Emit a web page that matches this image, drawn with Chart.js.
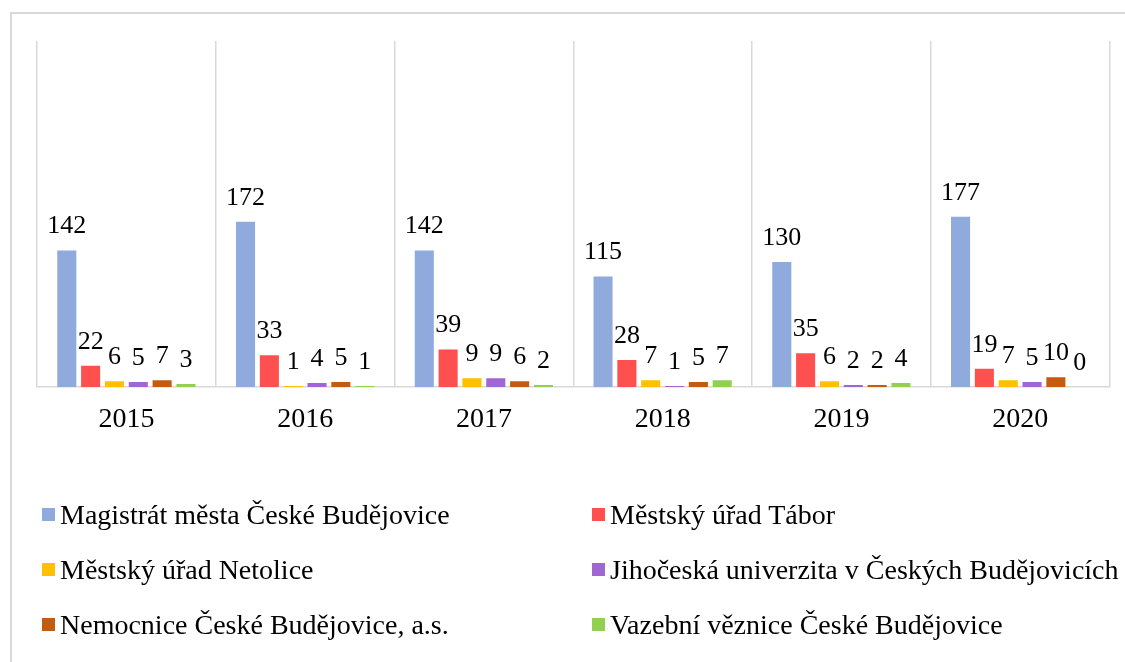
<!DOCTYPE html>
<html>
<head>
<meta charset="utf-8">
<script src="https://cdn.jsdelivr.net/npm/chart.js@4.4.1/dist/chart.umd.min.js"></script>
<style>
  html, body { margin: 0; padding: 0; background: #fff; }
  #wrap { position: relative; width: 1125px; height: 662px; overflow: hidden; }
  #frame { position: absolute; left: 10px; top: 12px; width: 1130px; height: 670px; border-left: 2px solid #d9d9d9; border-top: 2px solid #d9d9d9; box-sizing: border-box; }
  #c { position: absolute; left: 0; top: 0; }
  .lg { position: absolute; font-family: 'Liberation Serif', 'Times New Roman', serif; font-size: 28px; color: #000; white-space: nowrap; line-height: 32px; }
  .lg i { position: absolute; left: -18px; top: 9px; width: 13px; height: 13px; }
</style>
</head>
<body>
<div id="wrap">
  <div id="frame"></div>
  <canvas id="c" width="1125" height="662"></canvas>
  <div id="legend"></div>
</div>
<script>
const categories = ['2015', '2016', '2017', '2018', '2019', '2020'];
const seriesNames = [
  'Magistrát města České Budějovice',
  'Městský úřad Tábor',
  'Městský úřad Netolice',
  'Jihočeská univerzita v Českých Budějovicích',
  'Nemocnice České Budějovice, a.s.',
  'Vazební věznice České Budějovice'
];
const magistrat = [142, 172, 142, 115, 130, 177];
const tabor = [22, 33, 39, 28, 35, 19];
const netolice = [6, 1, 9, 7, 6, 7];
const univerzita = [5, 4, 9, 1, 2, 5];
const nemocnice = [7, 5, 6, 5, 2, 10];
const veznice = [3, 1, 2, 7, 4, 0];
const seriesColors = ['#8faadc', '#ff5050', '#ffc000', '#a066d3', '#c55a11', '#92d050'];

const allSeries = [magistrat, tabor, netolice, univerzita, nemocnice, veznice];
const datasets = allSeries.map((d, i) => ({
  label: seriesNames[i],
  data: d,
  backgroundColor: seriesColors[i],
  borderWidth: 0,
  categoryPercentage: 0.8,
  barPercentage: 0.8
}));

const labelPlugin = {
  id: 'valueLabels',
  afterDatasetsDraw(chart) {
    const ctx = chart.ctx;
    ctx.save();
    ctx.font = "26px 'Liberation Serif', 'Times New Roman', serif";
    ctx.fillStyle = '#000';
    ctx.textAlign = 'center';
    ctx.textBaseline = 'alphabetic';
    chart.data.datasets.forEach((ds, di) => {
      const meta = chart.getDatasetMeta(di);
      meta.data.forEach((el, i) => {
        ctx.fillText(String(ds.data[i]), el.x, el.y - 17);
      });
    });
    ctx.restore();
  }
};

new Chart(document.getElementById('c'), {
  type: 'bar',
  data: { labels: categories, datasets },
  options: {
    responsive: false,
    animation: false,
    events: [],
    layout: { padding: { left: 37, right: 15.5, top: 41, bottom: 209.5 } },
    plugins: { legend: { display: false }, tooltip: { enabled: false } },
    scales: {
      x: {
        grid: { color: '#d9d9d9', lineWidth: 1.5, drawTicks: false, offset: true },
        border: { display: true, color: '#d9d9d9', width: 1.5 },
        ticks: { color: '#000', padding: 16, font: { family: "'Liberation Serif', 'Times New Roman', serif", size: 28 } }
      },
      y: {
        display: false,
        min: 0,
        max: 360
      }
    }
  },
  plugins: [labelPlugin]
});

const legendPos = [
  [60, 499], [610, 499],
  [60, 554], [610, 554],
  [60, 609], [610, 609]
];
const lg = document.getElementById('legend');
seriesNames.forEach((n, i) => {
  const s = document.createElement('div');
  s.className = 'lg';
  s.style.left = legendPos[i][0] + 'px';
  s.style.top = legendPos[i][1] + 'px';
  const m = document.createElement('i');
  m.style.background = seriesColors[i];
  s.appendChild(m);
  s.appendChild(document.createTextNode(n));
  lg.appendChild(s);
});
</script>
</body>
</html>
